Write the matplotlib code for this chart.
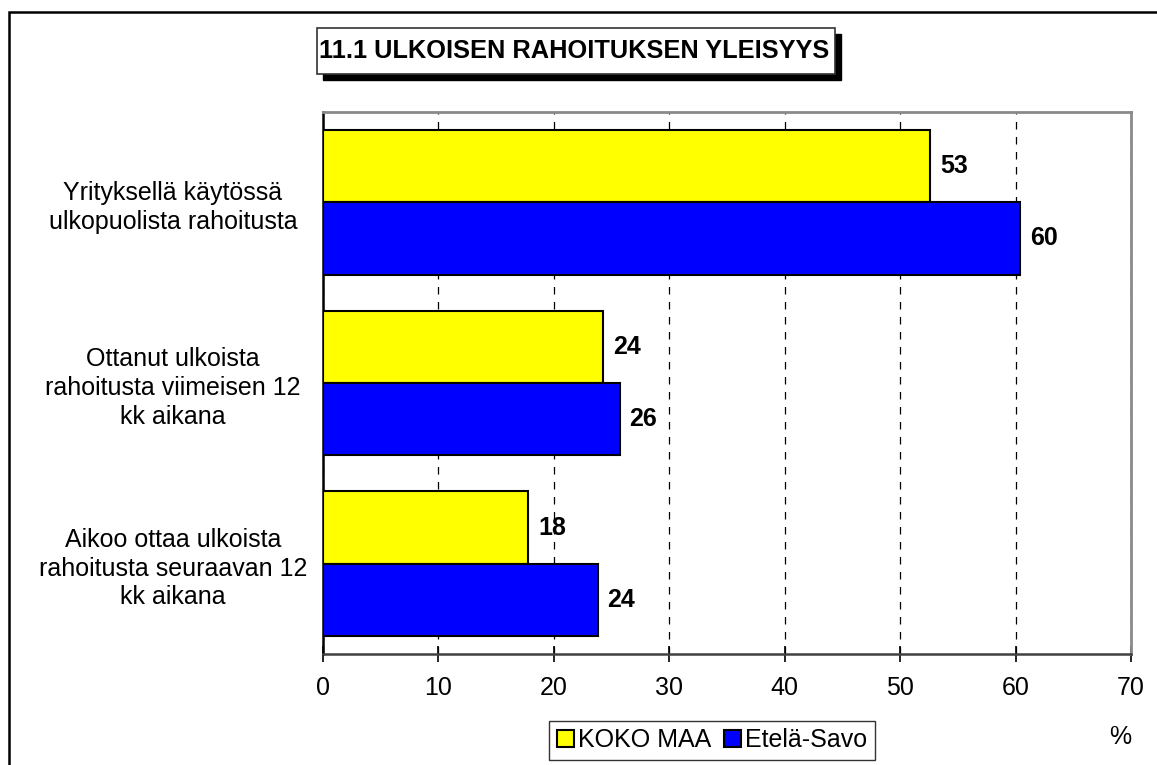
import matplotlib
matplotlib.use("Agg")
import matplotlib.pyplot as plt
from matplotlib.patches import Rectangle
import numpy as np

plt.rcParams['font.family'] = ['Liberation Sans', 'DejaVu Sans']

# data
categories = [
    "Yrityksellä käytössä\nulkopuolista rahoitusta",
    "Ottanut ulkoista\nrahoitusta viimeisen 12\nkk aikana",
    "Aikoo ottaa ulkoista\nrahoitusta seuraavan 12\nkk aikana",
]
koko_maa = [52.6, 24.3, 17.8]
etela_savo = [60.4, 25.7, 23.8]
series_names = ["KOKO MAA", "Etelä-Savo"]
x_ticks = [0, 10, 20, 30, 40, 50, 60, 70]
title = "11.1 ULKOISEN RAHOITUKSEN YLEISYYS"

W, H = 1157, 765
fig = plt.figure(figsize=(W / 100, H / 100), dpi=100)
ax = fig.add_axes([323 / W, 1 - 654 / H, (1131 - 323) / W, (654 - 112) / H])

y = np.arange(len(categories))
h = 0.4
b1 = ax.barh(y - h / 2, koko_maa, height=h, color='#ffff00', edgecolor='black', lw=1.5, zorder=3)
b2 = ax.barh(y + h / 2, etela_savo, height=h, color='#0000ff', edgecolor='black', lw=1.5, zorder=3)

for bars, vals in ((b1, koko_maa), (b2, etela_savo)):
    for bar, v in zip(bars, vals):
        ax.annotate(f"{v:.0f}", (v, bar.get_y() + bar.get_height() / 2),
                    xytext=(7, 0), textcoords='offset points', va='center', ha='left',
                    fontsize=18, fontweight='bold')

ax.set_xlim(0, 70)
ax.set_ylim(len(categories) - 0.5, -0.5)
ax.set_xticks(x_ticks)
ax.set_xticklabels([str(t) for t in x_ticks], fontsize=18)
ax.set_yticks(y)
ax.set_yticklabels(categories, fontsize=18, ha='center', linespacing=1.25)
ax.tick_params(axis='y', length=0, pad=108)
ax.tick_params(axis='x', direction='inout', length=12, width=1.2, pad=10)

ax.xaxis.grid(True, linestyle=(0, (6, 6)), color='black', lw=0.9, zorder=0)
ax.set_axisbelow(True)

ax.spines['left'].set_color('black')
ax.spines['left'].set_linewidth(1.8)
ax.spines['bottom'].set_color('#404040')
ax.spines['bottom'].set_linewidth(1.8)
for s in ('top', 'right'):
    ax.spines[s].set_color('#8a8a8a')
    ax.spines[s].set_linewidth(2)

# outer frame (runs off the right/bottom edge like the reference)
fig.patches.append(Rectangle((9 / W, -0.1), 1.2, 1.1 - 12 / H, transform=fig.transFigure,
                             fill=False, edgecolor='black', lw=1.8))

# title box with drop shadow
fig.patches.append(Rectangle((323 / W, 1 - 80 / H), 518 / W, 46 / H, transform=fig.transFigure,
                             facecolor='black', edgecolor='black'))
fig.patches.append(Rectangle((317 / W, 1 - 74 / H), 518 / W, 46 / H, transform=fig.transFigure,
                             facecolor='white', edgecolor='#333333', lw=1.2))
fig.text(574 / W, 1 - 51 / H, title, ha='center', va='center', fontsize=18.3, fontweight='bold')

leg = fig.legend([b1, b2], series_names, loc='center', bbox_to_anchor=(712 / W, 1 - 740 / H),
                 ncol=2, fontsize=18, frameon=True, fancybox=False, edgecolor='black',
                 handlelength=0.7, handleheight=0.7, handletextpad=0.15, columnspacing=0.5,
                 borderpad=0.3, borderaxespad=0)
leg.get_frame().set_linewidth(1.0)

fig.text(1120 / W, 1 - 737 / H, "%", ha='center', va='center', fontsize=18)

fig.savefig("out.png", dpi=100)
